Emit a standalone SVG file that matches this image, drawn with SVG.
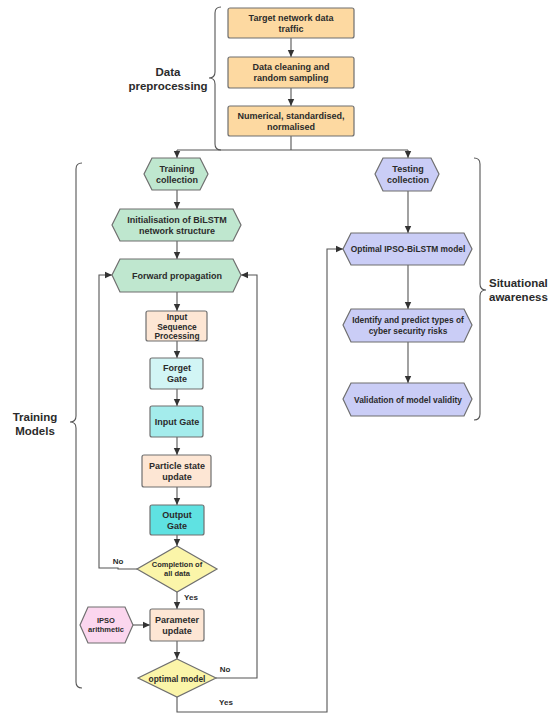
<svg xmlns="http://www.w3.org/2000/svg" width="550" height="721" viewBox="0 0 550 721">
<defs>
<marker id="ah" markerWidth="8" markerHeight="8" refX="7" refY="4" orient="auto" markerUnits="userSpaceOnUse">
<path d="M0,0.8 L7,4 L0,7.2 Z" fill="#333"/>
</marker>
<style>
.n{stroke:#6f6f6f;stroke-width:1.2}
.or{fill:#fdd9a1}
.gr{fill:#bfe7cf}
.pu{fill:#cacdf6}
.pe{fill:#fde6d4}
.c1{fill:#d2f5f5}
.c2{fill:#a4ecec}
.c3{fill:#5fe2e2}
.ye{fill:#fbf5a9}
.pk{fill:#fbd6ee}
.t{font-family:"Liberation Sans",Arial,sans-serif;font-weight:bold;font-size:9px;fill:#2b2b2b;text-anchor:middle}
.s{font-size:7.5px}
.m{font-size:8.4px}
.big{font-family:"Liberation Sans",Arial,sans-serif;font-weight:bold;font-size:11.5px;fill:#2b2b2b;text-anchor:middle}
.c{fill:none;stroke:#555;stroke-width:1.1}
.b{fill:none;stroke:#555;stroke-width:1.1}
</style>
</defs>
<rect width="550" height="721" fill="#fff"/>

<g id="braces">
<path class="b" d="M221,7 Q215,7 215,13 L215,72 Q215,78 209,78 Q215,78 215,84 L215,144 Q215,150 221,150"/>
<path class="b" d="M82,163 Q76,163 76,169 L76,416 Q76,422 70,422 Q76,422 76,428 L76,682 Q76,688 82,688"/>
<path class="b" d="M474,158 Q480,158 480,164 L480,284 Q480,290 486,290 Q480,290 480,296 L480,414 Q480,420 474,420"/>
<text class="big" x="168" y="76">Data</text>
<text class="big" x="168" y="90">preprocessing</text>
<text class="big" x="35" y="421">Training</text>
<text class="big" x="35" y="435">Models</text>
<text class="big" x="489" y="287" style="text-anchor:start">Situational</text>
<text class="big" x="489" y="301" style="text-anchor:start">awareness</text>
</g>

<g id="connectors">
<line class="c" x1="291" y1="38" x2="291" y2="57" marker-end="url(#ah)"/>
<line class="c" x1="291" y1="88" x2="291" y2="106" marker-end="url(#ah)"/>
<polyline class="c" points="291,136 291,150"/>
<polyline class="c" points="177,150 408,150"/>
<line class="c" x1="177" y1="150" x2="177" y2="158" marker-end="url(#ah)"/>
<line class="c" x1="408" y1="150" x2="408" y2="158" marker-end="url(#ah)"/>
<line class="c" x1="177" y1="190" x2="177" y2="209" marker-end="url(#ah)"/>
<line class="c" x1="177" y1="241" x2="177" y2="259" marker-end="url(#ah)"/>
<line class="c" x1="177" y1="292" x2="177" y2="311" marker-end="url(#ah)"/>
<line class="c" x1="177" y1="341" x2="177" y2="358" marker-end="url(#ah)"/>
<line class="c" x1="177" y1="389" x2="177" y2="406" marker-end="url(#ah)"/>
<line class="c" x1="177" y1="437" x2="177" y2="455" marker-end="url(#ah)"/>
<line class="c" x1="177" y1="487" x2="177" y2="505" marker-end="url(#ah)"/>
<line class="c" x1="177" y1="535" x2="177" y2="546" marker-end="url(#ah)"/>
<line class="c" x1="177" y1="592" x2="177" y2="609" marker-end="url(#ah)"/>
<line class="c" x1="177" y1="641" x2="177" y2="659" marker-end="url(#ah)"/>
<polyline class="c" points="137,569 118,569 118,568 99,568 99,275 112,275" marker-end="url(#ah)"/>
<line class="c" x1="133" y1="625" x2="150" y2="625" marker-end="url(#ah)"/>
<polyline class="c" points="216,678 257,678 257,275 241,275" marker-end="url(#ah)"/>
<polyline class="c" points="177,697 177,712 327,712 327,249 343,249" marker-end="url(#ah)"/>
<line class="c" x1="408" y1="191" x2="408" y2="233" marker-end="url(#ah)"/>
<line class="c" x1="408" y1="265" x2="408" y2="309" marker-end="url(#ah)"/>
<line class="c" x1="408" y1="342" x2="408" y2="383" marker-end="url(#ah)"/>
<text class="t" x="118" y="564" style="font-size:8px">No</text>
<text class="t" x="191" y="600" style="font-size:8px">Yes</text>
<text class="t" x="225" y="672" style="font-size:8px">No</text>
<text class="t" x="226" y="705" style="font-size:8px">Yes</text>
</g>

<g id="n-target"><rect class="n or" x="228" y="8" width="126" height="30" rx="2"/>
<text class="t" x="291" y="21">Target network data</text><text class="t" x="291" y="32">traffic</text></g>
<g id="n-cleaning"><rect class="n or" x="228" y="57" width="126" height="31" rx="2"/>
<text class="t" x="291" y="70">Data cleaning and</text><text class="t" x="291" y="81">random sampling</text></g>
<g id="n-numerical"><rect class="n or" x="228" y="106" width="126" height="30" rx="2"/>
<text class="t" x="291" y="119">Numerical, standardised,</text><text class="t" x="291" y="130">normalised</text></g>

<g id="n-training"><polygon class="n gr" points="152,158 200,158 208,174 200,190 152,190 144,174"/>
<text class="t" x="177" y="172">Training</text><text class="t" x="177" y="183">collection</text></g>
<g id="n-init"><polygon class="n gr" points="120,209 233,209 241,225 233,241 120,241 112,225"/>
<text class="t" x="177" y="223">Initialisation of BiLSTM</text><text class="t" x="177" y="234">network structure</text></g>
<g id="n-forward"><polygon class="n gr" points="120,259 233,259 241,275 233,292 120,292 112,275"/>
<text class="t" x="177" y="279">Forward propagation</text></g>
<g id="n-inseq"><rect class="n pe" x="146" y="311" width="61" height="30" rx="2"/>
<text class="t m" x="177" y="320">Input</text><text class="t m" x="177" y="329.5">Sequence</text><text class="t m" x="177" y="339">Processing</text></g>
<g id="n-forget"><rect class="n c1" x="150" y="358" width="53" height="31" rx="2"/>
<text class="t" x="177" y="371">Forget</text><text class="t" x="177" y="382">Gate</text></g>
<g id="n-input"><rect class="n c2" x="150" y="406" width="53" height="31" rx="2"/>
<text class="t" x="177" y="425">Input Gate</text></g>
<g id="n-particle"><rect class="n pe" x="142" y="455" width="69" height="32" rx="2"/>
<text class="t" x="177" y="469">Particle state</text><text class="t" x="177" y="480">update</text></g>
<g id="n-output"><rect class="n c3" x="150" y="505" width="54" height="30" rx="2"/>
<text class="t" x="177" y="518">Output</text><text class="t" x="177" y="529">Gate</text></g>
<g id="n-completion"><polygon class="n ye" points="177,546 217,569 177,592 137,569"/>
<text class="t s" x="177" y="567">Completion of</text><text class="t s" x="177" y="576">all data</text></g>
<g id="n-ipso"><polygon class="n pk" points="88,607 125,607 133,625 125,643 88,643 80,625"/>
<text class="t s" x="106" y="623">IPSO</text><text class="t s" x="106" y="632">arithmetic</text></g>
<g id="n-param"><rect class="n pe" x="150" y="609" width="54" height="32" rx="2"/>
<text class="t" x="177" y="623">Parameter</text><text class="t" x="177" y="634">update</text></g>
<g id="n-optimal"><polygon class="n ye" points="177,659 216,678 177,697 138,678"/>
<text class="t m" x="177" y="681.5">optimal model</text></g>

<g id="n-testing"><polygon class="n pu" points="383,158 431,158 439,174 431,191 383,191 375,174"/>
<text class="t" x="408" y="172">Testing</text><text class="t" x="408" y="183">collection</text></g>
<g id="n-ipsobilstm"><polygon class="n pu" points="351,233 464,233 472,249 464,265 351,265 343,249"/>
<text class="t m" x="408" y="252">Optimal IPSO-BiLSTM model</text></g>
<g id="n-identify"><polygon class="n pu" points="351,309 464,309 472,325 464,342 351,342 343,325"/>
<text class="t m" x="408" y="323">Identify and predict types of</text><text class="t m" x="408" y="334">cyber security risks</text></g>
<g id="n-validation"><polygon class="n pu" points="351,383 464,383 472,399 464,416 351,416 343,399"/>
<text class="t m" x="408" y="402.5">Validation of model validity</text></g>
</svg>
